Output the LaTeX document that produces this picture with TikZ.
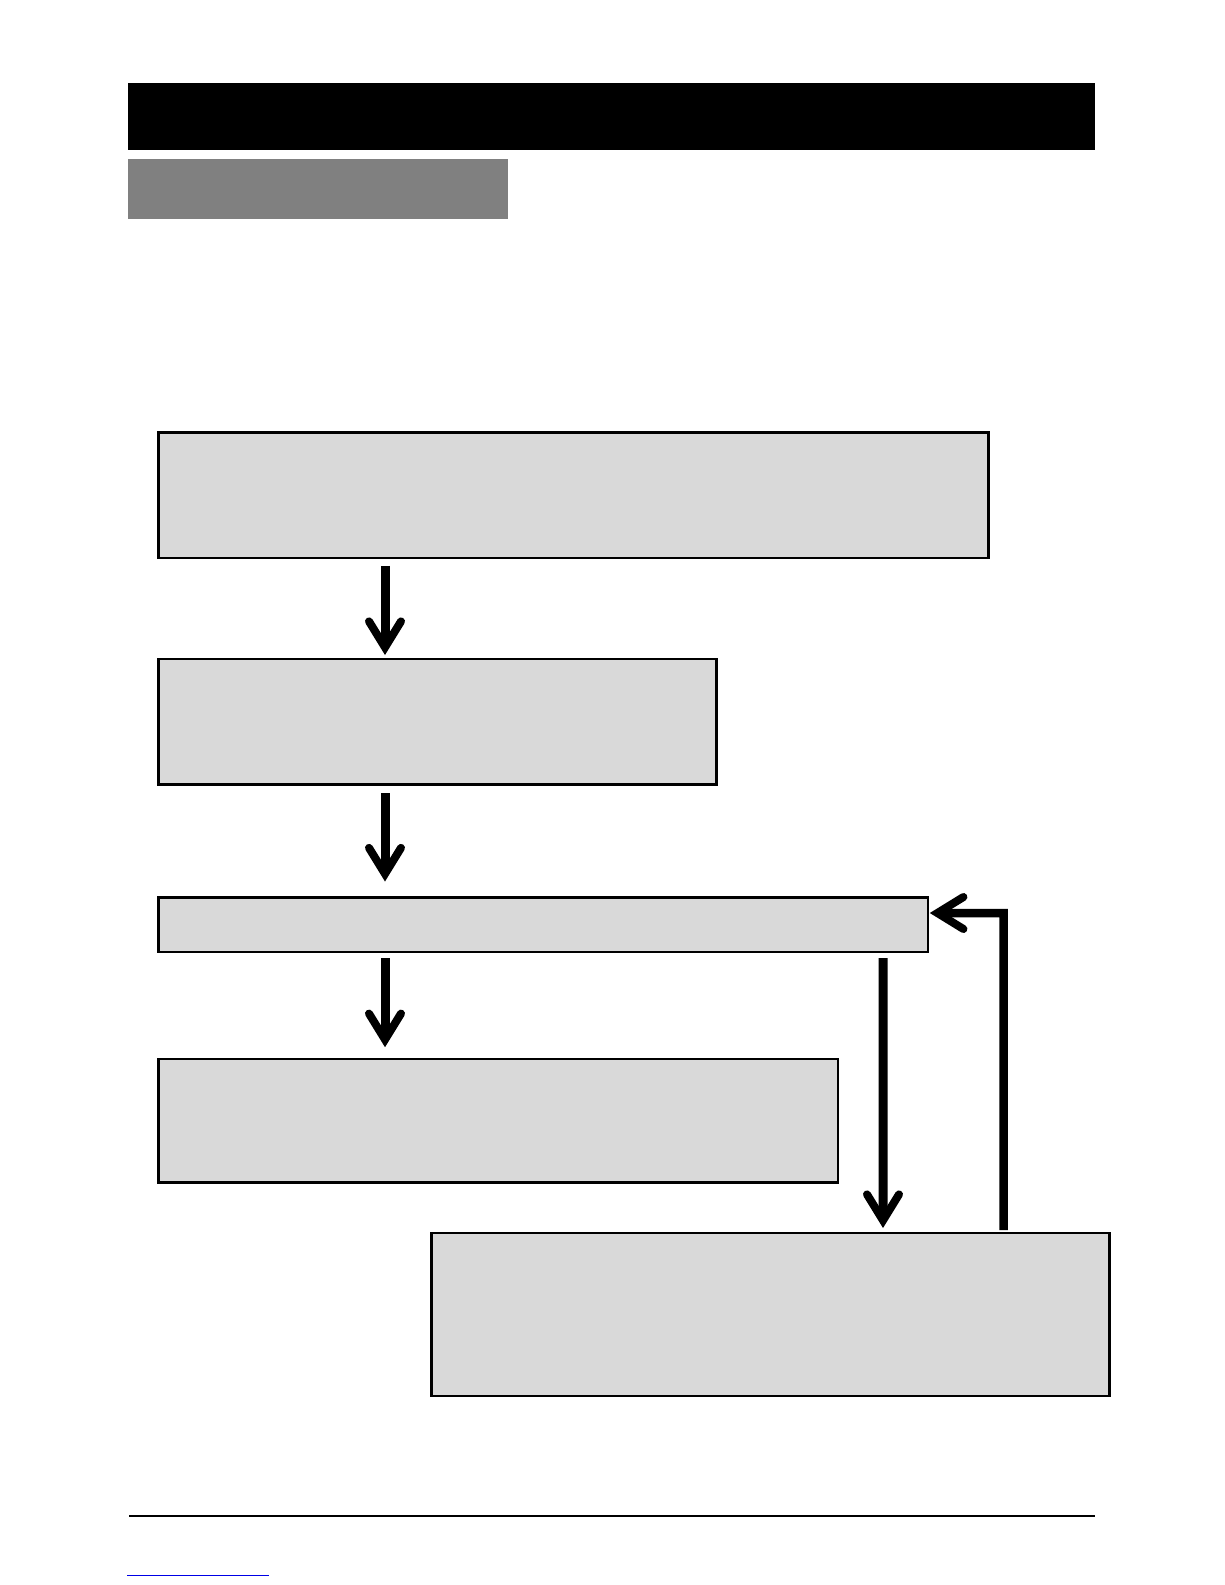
\documentclass[tikz,border=0pt]{standalone}
\usetikzlibrary{arrows.meta,calc}
\definecolor{boxgray}{RGB}{217,217,217}
\definecolor{bargray}{RGB}{128,128,128}
\definecolor{linkblue}{RGB}{0,0,230}
\begin{document}
\begin{tikzpicture}[x=0.5pt,y=-0.5pt,
  flowbox/.style={draw=black, fill=boxgray, line width=1.25pt, inner sep=0pt, outer sep=0pt, anchor=north west},
  flowarrow/.style={line width=4.5pt, -{Straight Barb[length=13pt, width=16pt, line width=4pt, line cap=round, line join=miter]}}]
\useasboundingbox (0,0) rectangle (1225,1585);
% header bars
\fill[black] (128,83) rectangle (1094.6,150);
\fill[bargray] (128,159) rectangle (507.5,219);
% boxes
\node[flowbox, minimum width=414.9pt, minimum height=62.65pt] (b1) at (158.7,432.6) {};
\node[flowbox, minimum width=278.95pt, minimum height=62.65pt] (b2) at (158.7,659) {};
\node[flowbox, minimum width=384.55pt, minimum height=27.3pt] (b3) at (158.7,897.5) {};
\node[flowbox, minimum width=339.6pt, minimum height=61.65pt] (b4) at (158.7,1059.2) {};
\node[flowbox, minimum width=339.05pt, minimum height=81.4pt] (b5) at (431.6,1233) {};
% arrows
\draw[flowarrow] ($(b1.south west)+(226.3,8)$) -- ($(b2.north west)+(226.3,-4)$);
\draw[flowarrow] ($(b2.south west)+(226.3,9)$) -- ($(b3.north west)+(226.3,-16)$);
\draw[flowarrow] ($(b3.south west)+(226.3,6)$) -- ($(b4.north west)+(226.3,-12)$);
\draw[flowarrow] ($(b3.south west)+(724.3,6)$) -- ($(b5.north west)+(451.4,-5)$);
\draw[flowarrow, line width=4.25pt] ($(b5.north west)+(572,-3)$) -- ($(b3.north east)+(75.8,15.5)$) -- ($(b3.north east)+(2,15.5)$);
% footer
\fill[black] (129,1514.8) rectangle (1094.6,1517);
\fill[linkblue] (127,1574.6) rectangle (269,1576);
\end{tikzpicture}
\end{document}
